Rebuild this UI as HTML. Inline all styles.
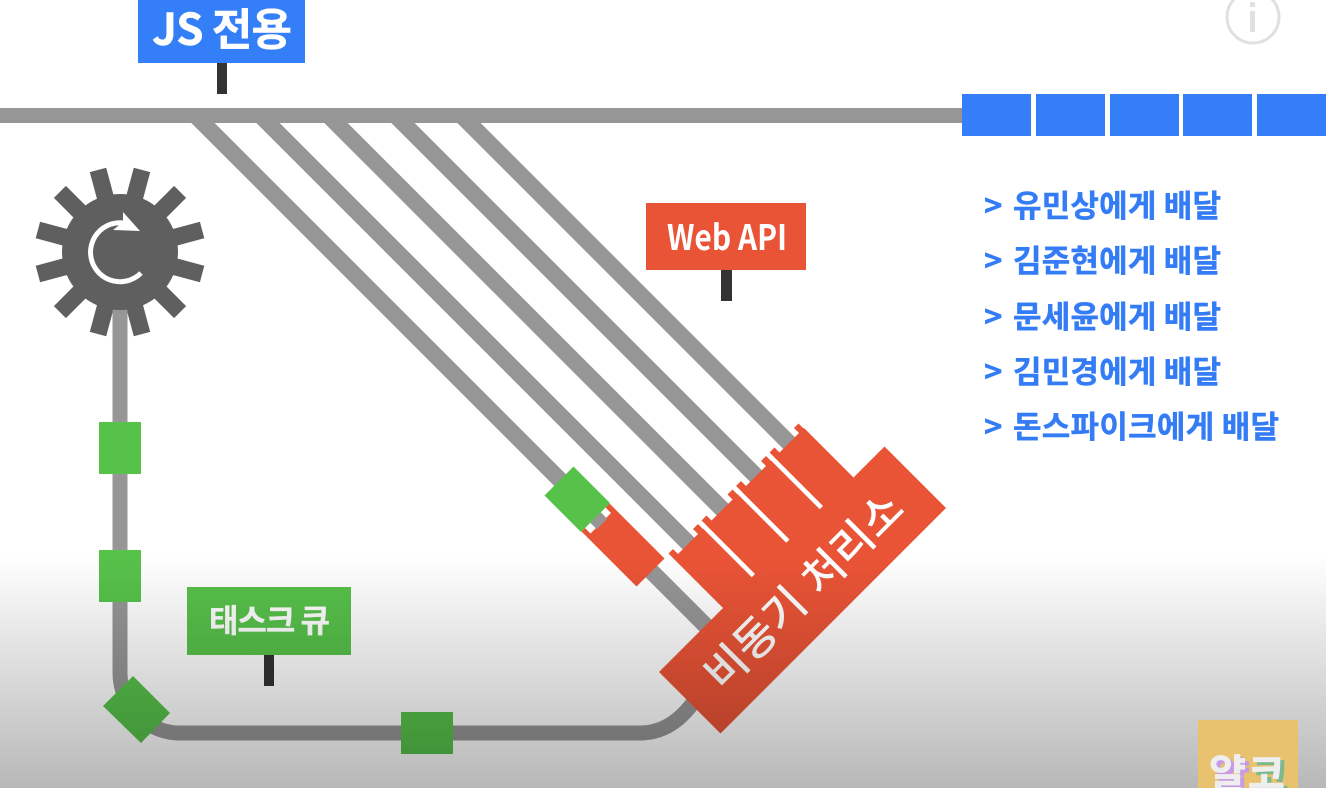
<!DOCTYPE html>
<html><head><meta charset="utf-8">
<style>
html,body{margin:0;padding:0;background:#fff;width:1326px;height:788px;overflow:hidden}
svg{display:block}
text{font-family:"Liberation Sans","Noto Sans CJK KR",sans-serif}
.k{font-family:"Noto Sans CJK KR","Liberation Sans",sans-serif;font-weight:700}
.l{fill:#337cf5;font-size:31px;stroke:#337cf5;stroke-width:.4px}
</style></head><body>
<svg width="1326" height="788" viewBox="0 0 1326 788" xmlns="http://www.w3.org/2000/svg">
<defs><linearGradient id="g" x1="0" y1="0" x2="0" y2="1"><stop offset="0" stop-color="#000" stop-opacity="0"/><stop offset="1" stop-color="#000" stop-opacity=".28"/></linearGradient></defs>
<rect width="1326" height="788" fill="#fff"/>
<!-- info -->
<circle cx="1253" cy="17" r="26" fill="none" stroke="#e0e0e0" stroke-width="3"/>
<rect x="1250" y="2" width="5" height="5" fill="#e0e0e0"/><rect x="1250" y="11" width="5" height="21" fill="#e0e0e0"/>
<!-- main track -->
<g stroke="#969696" stroke-width="16.500" fill="none">
<path d="M195 115 L710 630"/>
<path d="M260 115 L760 615"/>
<path d="M328 115 L760 547"/>
<path d="M395 115 L800 520"/>
<path d="M461 115 L810 464"/>
</g>
<rect x="0" y="108" width="963" height="15" fill="#969696"/>
<g fill="#347ef8"><rect x="962" y="94" width="69" height="42"/><rect x="1036" y="94" width="69" height="42"/><rect x="1110" y="94" width="69" height="42"/><rect x="1183" y="94" width="69" height="42"/><rect x="1257" y="94" width="69" height="42"/></g>
<!-- JS label -->
<rect x="217" y="63" width="10" height="31" fill="#333"/>
<rect x="138" y="0" width="167" height="63" fill="#347ef8"/>
<text class="k" x="152" y="45" font-size="44" fill="#fff" textLength="140" stroke="#fff" stroke-width=".4">JS 전용</text>
<!-- Web API -->
<rect x="721" y="270" width="11" height="31" fill="#333"/>
<rect x="646" y="203" width="160" height="67" fill="#ea5436"/>
<text class="k" x="667" y="250" font-size="35" fill="#fff" textLength="120" lengthAdjust="spacingAndGlyphs">Web API</text>
<!-- list -->
<text class="k l" x="984" y="217">&gt;</text><text class="k l" x="1013" y="217" textLength="208">유민상에게 배달</text>
<text class="k l" x="984" y="272">&gt;</text><text class="k l" x="1013" y="272" textLength="208">김준현에게 배달</text>
<text class="k l" x="984" y="328">&gt;</text><text class="k l" x="1013" y="328" textLength="208">문세윤에게 배달</text>
<text class="k l" x="984" y="383">&gt;</text><text class="k l" x="1013" y="383" textLength="208">김민경에게 배달</text>
<text class="k l" x="984" y="438">&gt;</text><text class="k l" x="1013" y="438" textLength="266">돈스파이크에게 배달</text>
<!-- queue track -->
<path d="M120 300 V673 A60 60 0 0 0 180 733 H640 Q672 733 695 700" fill="none" stroke="#969696" stroke-width="15"/>
<!-- gear -->
<g fill="#5f5f5f">
<circle cx="120" cy="252" r="58"/>
<rect x="111.500" y="167" width="17" height="40" transform="rotate(15 120 252)"/>
<rect x="111.500" y="167" width="17" height="40" transform="rotate(45 120 252)"/>
<rect x="111.500" y="167" width="17" height="40" transform="rotate(75 120 252)"/>
<rect x="111.500" y="167" width="17" height="40" transform="rotate(105 120 252)"/>
<rect x="111.500" y="167" width="17" height="40" transform="rotate(135 120 252)"/>
<rect x="111.500" y="167" width="17" height="40" transform="rotate(165 120 252)"/>
<rect x="111.500" y="167" width="17" height="40" transform="rotate(195 120 252)"/>
<rect x="111.500" y="167" width="17" height="40" transform="rotate(225 120 252)"/>
<rect x="111.500" y="167" width="17" height="40" transform="rotate(255 120 252)"/>
<rect x="111.500" y="167" width="17" height="40" transform="rotate(285 120 252)"/>
<rect x="111.500" y="167" width="17" height="40" transform="rotate(315 120 252)"/>
<rect x="111.500" y="167" width="17" height="40" transform="rotate(345 120 252)"/>
</g>
<path d="M124 223 A29.500 29.500 0 1 0 141 273" fill="none" stroke="#fff" stroke-width="5"/>
<path d="M123 212 L140 231 L113 230 L123 222Z" fill="#fff"/>
<rect x="112.500" y="310" width="15" height="30" fill="#969696"/>
<!-- green items -->
<rect x="99" y="422" width="42" height="52" fill="#57c24a"/>
<rect x="99" y="550" width="42" height="52" fill="#57c24a"/>
<path d="M133 676 L170 713 L141 743 L103 706Z" fill="#57c24a"/>
<rect x="401" y="712" width="52" height="42" fill="#57c24a"/>
<!-- queue label -->
<rect x="264" y="655" width="10" height="31" fill="#333"/>
<rect x="187" y="587" width="164" height="68" fill="#57c24a"/>
<text class="k" x="209" y="632" font-size="32" fill="#fff" textLength="121" stroke="#fff" stroke-width=".3">태스크 큐</text>
<!-- orange in rotated (u,v) coords -->
<g transform="matrix(.5,-.5,.5,.5,0,0)">
<rect x="115" y="1232" width="261" height="105" fill="#ea5436"/>
<g fill="#ea5436">
<rect x="115" y="1222" width="9" height="11"/>
<rect x="164" y="1222" width="10" height="11"/><rect x="181" y="1222" width="10" height="11"/>
<rect x="233" y="1222" width="10" height="11"/><rect x="250" y="1222" width="10" height="11"/>
<rect x="300" y="1222" width="10" height="11"/><rect x="317" y="1222" width="10" height="11"/>
<rect x="366" y="1222" width="9" height="11"/>
</g>
<g fill="#fff">
<rect x="174.500" y="1222" width="6.500" height="107"/>
<rect x="243.500" y="1222" width="6.500" height="107"/>
<rect x="310.500" y="1222" width="6.500" height="107"/>
</g>
<rect x="-13" y="1331" width="451" height="123" fill="#ea5436"/>
<rect x="50" y="1113" width="56" height="110" fill="#ea5436"/>
<rect x="57" y="1113" width="41" height="11" fill="#fff"/>
<rect x="67.500" y="1113" width="21" height="13" fill="#969696"/>
<rect x="49" y="1040" width="58" height="73" fill="#57c24a"/>
</g>
<text class="k" transform="translate(755 638) rotate(-45)" y="16" text-anchor="middle" font-size="44" style="font-weight:500" fill="#fff" textLength="122">비동기</text>
<text class="k" transform="translate(852 543) rotate(-45)" y="16" text-anchor="middle" font-size="44" style="font-weight:500" fill="#fff" textLength="122">처리소</text>
<!-- gradient -->
<rect x="0" y="555" width="1326" height="233" fill="url(#g)"/>
<!-- watermark -->
<rect x="1198" y="720" width="100" height="68" fill="#e9c270"/>
<text class="k" x="1213" y="791" font-size="40" fill="#c79be6" stroke="#c79be6" stroke-width=".8">얄</text>
<text class="k" x="1252" y="791" font-size="40" fill="#7db98f" stroke="#7db98f" stroke-width=".8">코</text>
<text class="k" x="1209" y="788" font-size="40" fill="#eee" stroke="#eee" stroke-width=".8">얄</text>
<text class="k" x="1248" y="788" font-size="40" fill="#eee" stroke="#eee" stroke-width=".8">코</text>
</svg>
</body></html>
